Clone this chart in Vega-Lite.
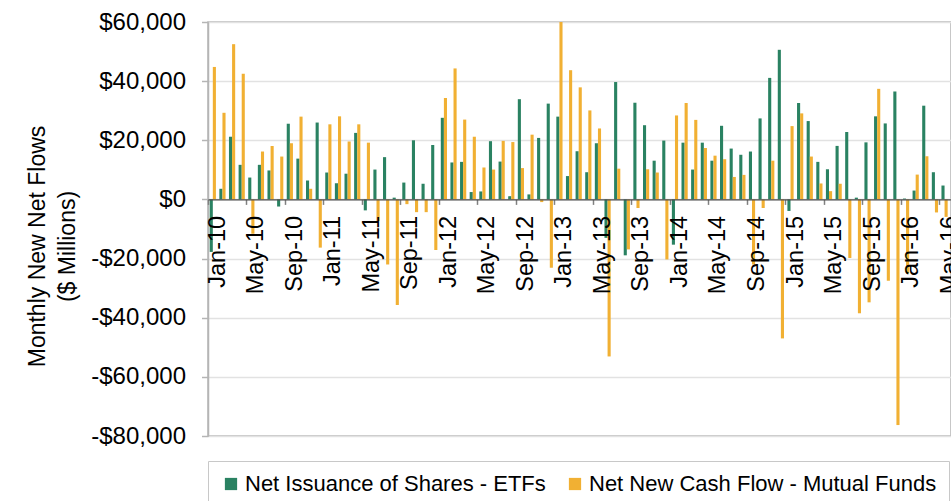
{
  "$schema": "https://vega.github.io/schema/vega-lite/v6.json",
  "usermeta": {"embedOptions": {"actions": false}},
  "autosize": {"type": "none"},
  "padding": {"left": 208, "top": 22, "right": 0, "bottom": 65},
  "width": 743,
  "height": 414,
  "config": {
    "font": "Liberation Sans",
    "view": {"stroke": "#b5b5b5", "strokeWidth": 1.5}
  },
  "data": {"values": [
    {"m":"Jan-10","s":"ETFs","v":-17750},{"m":"Jan-10","s":"MF","v":44800},
    {"m":"Feb-10","s":"ETFs","v":3600},{"m":"Feb-10","s":"MF","v":29300},
    {"m":"Mar-10","s":"ETFs","v":21200},{"m":"Mar-10","s":"MF","v":52500},
    {"m":"Apr-10","s":"ETFs","v":11700},{"m":"Apr-10","s":"MF","v":42500},
    {"m":"May-10","s":"ETFs","v":7400},{"m":"May-10","s":"MF","v":-11600},
    {"m":"Jun-10","s":"ETFs","v":11700},{"m":"Jun-10","s":"MF","v":16200},
    {"m":"Jul-10","s":"ETFs","v":9800},{"m":"Jul-10","s":"MF","v":18100},
    {"m":"Aug-10","s":"ETFs","v":-2400},{"m":"Aug-10","s":"MF","v":14500},
    {"m":"Sep-10","s":"ETFs","v":25600},{"m":"Sep-10","s":"MF","v":19000},
    {"m":"Oct-10","s":"ETFs","v":13800},{"m":"Oct-10","s":"MF","v":28000},
    {"m":"Nov-10","s":"ETFs","v":6400},{"m":"Nov-10","s":"MF","v":3600},
    {"m":"Dec-10","s":"ETFs","v":26000},{"m":"Dec-10","s":"MF","v":-16300},
    {"m":"Jan-11","s":"ETFs","v":9100},{"m":"Jan-11","s":"MF","v":25400},
    {"m":"Feb-11","s":"ETFs","v":5500},{"m":"Feb-11","s":"MF","v":28100},
    {"m":"Mar-11","s":"ETFs","v":8700},{"m":"Mar-11","s":"MF","v":19600},
    {"m":"Apr-11","s":"ETFs","v":22500},{"m":"Apr-11","s":"MF","v":25400},
    {"m":"May-11","s":"ETFs","v":-3700},{"m":"May-11","s":"MF","v":19200},
    {"m":"Jun-11","s":"ETFs","v":10100},{"m":"Jun-11","s":"MF","v":-7300},
    {"m":"Jul-11","s":"ETFs","v":14300},{"m":"Jul-11","s":"MF","v":-22000},
    {"m":"Aug-11","s":"ETFs","v":600},{"m":"Aug-11","s":"MF","v":-35700},
    {"m":"Sep-11","s":"ETFs","v":5700},{"m":"Sep-11","s":"MF","v":-1600},
    {"m":"Oct-11","s":"ETFs","v":20000},{"m":"Oct-11","s":"MF","v":-4300},
    {"m":"Nov-11","s":"ETFs","v":5300},{"m":"Nov-11","s":"MF","v":-4300},
    {"m":"Dec-11","s":"ETFs","v":18400},{"m":"Dec-11","s":"MF","v":-17100},
    {"m":"Jan-12","s":"ETFs","v":27600},{"m":"Jan-12","s":"MF","v":34300},
    {"m":"Feb-12","s":"ETFs","v":12500},{"m":"Feb-12","s":"MF","v":44300},
    {"m":"Mar-12","s":"ETFs","v":12700},{"m":"Mar-12","s":"MF","v":27000},
    {"m":"Apr-12","s":"ETFs","v":2500},{"m":"Apr-12","s":"MF","v":21200},
    {"m":"May-12","s":"ETFs","v":2700},{"m":"May-12","s":"MF","v":10800},
    {"m":"Jun-12","s":"ETFs","v":19700},{"m":"Jun-12","s":"MF","v":10100},
    {"m":"Jul-12","s":"ETFs","v":12800},{"m":"Jul-12","s":"MF","v":19800},
    {"m":"Aug-12","s":"ETFs","v":1100},{"m":"Aug-12","s":"MF","v":19400},
    {"m":"Sep-12","s":"ETFs","v":33900},{"m":"Sep-12","s":"MF","v":10600},
    {"m":"Oct-12","s":"ETFs","v":1700},{"m":"Oct-12","s":"MF","v":21900},
    {"m":"Nov-12","s":"ETFs","v":20800},{"m":"Nov-12","s":"MF","v":-900},
    {"m":"Dec-12","s":"ETFs","v":32400},{"m":"Dec-12","s":"MF","v":-23100},
    {"m":"Jan-13","s":"ETFs","v":28000},{"m":"Jan-13","s":"MF","v":60000},
    {"m":"Feb-13","s":"ETFs","v":7900},{"m":"Feb-13","s":"MF","v":43700},
    {"m":"Mar-13","s":"ETFs","v":16300},{"m":"Mar-13","s":"MF","v":37900},
    {"m":"Apr-13","s":"ETFs","v":9200},{"m":"Apr-13","s":"MF","v":30100},
    {"m":"May-13","s":"ETFs","v":19000},{"m":"May-13","s":"MF","v":24000},
    {"m":"Jun-13","s":"ETFs","v":-13000},{"m":"Jun-13","s":"MF","v":-53100},
    {"m":"Jul-13","s":"ETFs","v":39700},{"m":"Jul-13","s":"MF","v":10400},
    {"m":"Aug-13","s":"ETFs","v":-18900},{"m":"Aug-13","s":"MF","v":-16900},
    {"m":"Sep-13","s":"ETFs","v":32700},{"m":"Sep-13","s":"MF","v":-2900},
    {"m":"Oct-13","s":"ETFs","v":25100},{"m":"Oct-13","s":"MF","v":10200},
    {"m":"Nov-13","s":"ETFs","v":13100},{"m":"Nov-13","s":"MF","v":9100},
    {"m":"Dec-13","s":"ETFs","v":19900},{"m":"Dec-13","s":"MF","v":-20300},
    {"m":"Jan-14","s":"ETFs","v":-15300},{"m":"Jan-14","s":"MF","v":28400},
    {"m":"Feb-14","s":"ETFs","v":19200},{"m":"Feb-14","s":"MF","v":32600},
    {"m":"Mar-14","s":"ETFs","v":10100},{"m":"Mar-14","s":"MF","v":26900},
    {"m":"Apr-14","s":"ETFs","v":19200},{"m":"Apr-14","s":"MF","v":17400},
    {"m":"May-14","s":"ETFs","v":13100},{"m":"May-14","s":"MF","v":14800},
    {"m":"Jun-14","s":"ETFs","v":24900},{"m":"Jun-14","s":"MF","v":13600},
    {"m":"Jul-14","s":"ETFs","v":17200},{"m":"Jul-14","s":"MF","v":7600},
    {"m":"Aug-14","s":"ETFs","v":15100},{"m":"Aug-14","s":"MF","v":8300},
    {"m":"Sep-14","s":"ETFs","v":16200},{"m":"Sep-14","s":"MF","v":-22000},
    {"m":"Oct-14","s":"ETFs","v":27400},{"m":"Oct-14","s":"MF","v":-2900},
    {"m":"Nov-14","s":"ETFs","v":41100},{"m":"Nov-14","s":"MF","v":13100},
    {"m":"Dec-14","s":"ETFs","v":50600},{"m":"Dec-14","s":"MF","v":-47000},
    {"m":"Jan-15","s":"ETFs","v":-3900},{"m":"Jan-15","s":"MF","v":24800},
    {"m":"Feb-15","s":"ETFs","v":32600},{"m":"Feb-15","s":"MF","v":29100},
    {"m":"Mar-15","s":"ETFs","v":26500},{"m":"Mar-15","s":"MF","v":14500},
    {"m":"Apr-15","s":"ETFs","v":12700},{"m":"Apr-15","s":"MF","v":5400},
    {"m":"May-15","s":"ETFs","v":10200},{"m":"May-15","s":"MF","v":2800},
    {"m":"Jun-15","s":"ETFs","v":18100},{"m":"Jun-15","s":"MF","v":5300},
    {"m":"Jul-15","s":"ETFs","v":22800},{"m":"Jul-15","s":"MF","v":-19800},
    {"m":"Aug-15","s":"ETFs","v":600},{"m":"Aug-15","s":"MF","v":-38500},
    {"m":"Sep-15","s":"ETFs","v":19300},{"m":"Sep-15","s":"MF","v":-34800},
    {"m":"Oct-15","s":"ETFs","v":28100},{"m":"Oct-15","s":"MF","v":37400},
    {"m":"Nov-15","s":"ETFs","v":25700},{"m":"Nov-15","s":"MF","v":-27500},
    {"m":"Dec-15","s":"ETFs","v":36500},{"m":"Dec-15","s":"MF","v":-76300},
    {"m":"Jan-16","s":"ETFs","v":300},{"m":"Jan-16","s":"MF","v":-25000},
    {"m":"Feb-16","s":"ETFs","v":3000},{"m":"Feb-16","s":"MF","v":8400},
    {"m":"Mar-16","s":"ETFs","v":31700},{"m":"Mar-16","s":"MF","v":14600},
    {"m":"Apr-16","s":"ETFs","v":9200},{"m":"Apr-16","s":"MF","v":-4400},
    {"m":"May-16","s":"ETFs","v":4700},{"m":"May-16","s":"MF","v":-5900},
    {"m":"Jun-16","s":"ETFs","v":20400},{"m":"Jun-16","s":"MF","v":12000}
  ]},
  "mark": {"type": "bar"},
  "encoding": {
    "x": {
      "field": "m", "type": "ordinal", "sort": null,
      "scale": {"type": "band", "paddingInner": 0, "paddingOuter": 0, "range": [0, 751]},
      "axis": {
        "title": null,
        "values": ["Jan-10","May-10","Sep-10","Jan-11","May-11","Sep-11","Jan-12","May-12","Sep-12","Jan-13","May-13","Sep-13","Jan-14","May-14","Sep-14","Jan-15","May-15","Sep-15","Jan-16","May-16"],
        "offset": -236.6,
        "bandPosition": 0,
        "labelOffset": 5,
        "labelAngle": -90,
        "labelFontSize": 23.5,
        "labelColor": "#000000",
        "labelPadding": 11,
        "tickSize": 5,
        "tickColor": "#808080",
        "tickWidth": 1.5,
        "domainColor": "#4d4d4d",
        "domainWidth": 1.2,
        "grid": false,
        "zindex": 1
      }
    },
    "xOffset": {
      "field": "s", "type": "nominal",
      "scale": {"domain": ["ETFs", "MF"], "paddingInner": 0, "paddingOuter": 0.55}
    },
    "y": {
      "field": "v", "type": "quantitative",
      "scale": {"domain": [-80000, 60000], "nice": false},
      "axis": {
        "values": [-80000, -60000, -40000, -20000, 0, 20000, 40000, 60000],
        "labelExpr": "(datum.value < 0 ? '-' : '') + '$' + format(abs(datum.value), ',')",
        "labelFontSize": 24,
        "labelColor": "#000000",
        "labelPadding": 16,
        "tickSize": 6.5,
        "tickColor": "#b5b5b5",
        "tickWidth": 1.5,
        "domainColor": "#b5b5b5",
        "domainWidth": 1.5,
        "gridColor": "#e2e2e2",
        "gridWidth": 1.5,
        "title": ["Monthly New Net Flows", "\u00a0\u00a0\u00a0\u00a0\u00a0($ Millions)"],
        "titleFontSize": 23,
        "titleFontWeight": "normal",
        "titleColor": "#000000",
        "titleAngle": -90,
        "titleAlign": "center",
        "titleBaseline": "middle",
        "titleLineHeight": 30,
        "titleX": -171,
        "titleY": 224
      }
    },
    "color": {
      "field": "s", "type": "nominal",
      "scale": {"domain": ["ETFs", "MF"], "range": ["#2a8262", "#f1b033"]},
      "legend": {
        "title": null,
        "orient": "none",
        "legendX": 0,
        "legendY": 439,
        "direction": "horizontal",
        "labelExpr": "datum.label == 'ETFs' ? 'Net Issuance of Shares - ETFs' : 'Net New Cash Flow - Mutual Funds'",
        "labelFontSize": 22,
        "labelColor": "#000000",
        "labelLimit": 1000,
        "labelOffset": 3,
        "symbolType": "square",
        "symbolSize": 150,
        "symbolStrokeWidth": 0,
        "symbolOpacity": 1,
        "symbolOffset": 0,
        "columnPadding": 18,
        "padding": 12,
        "strokeColor": "#c8c8c8"
      }
    }
  }
}
